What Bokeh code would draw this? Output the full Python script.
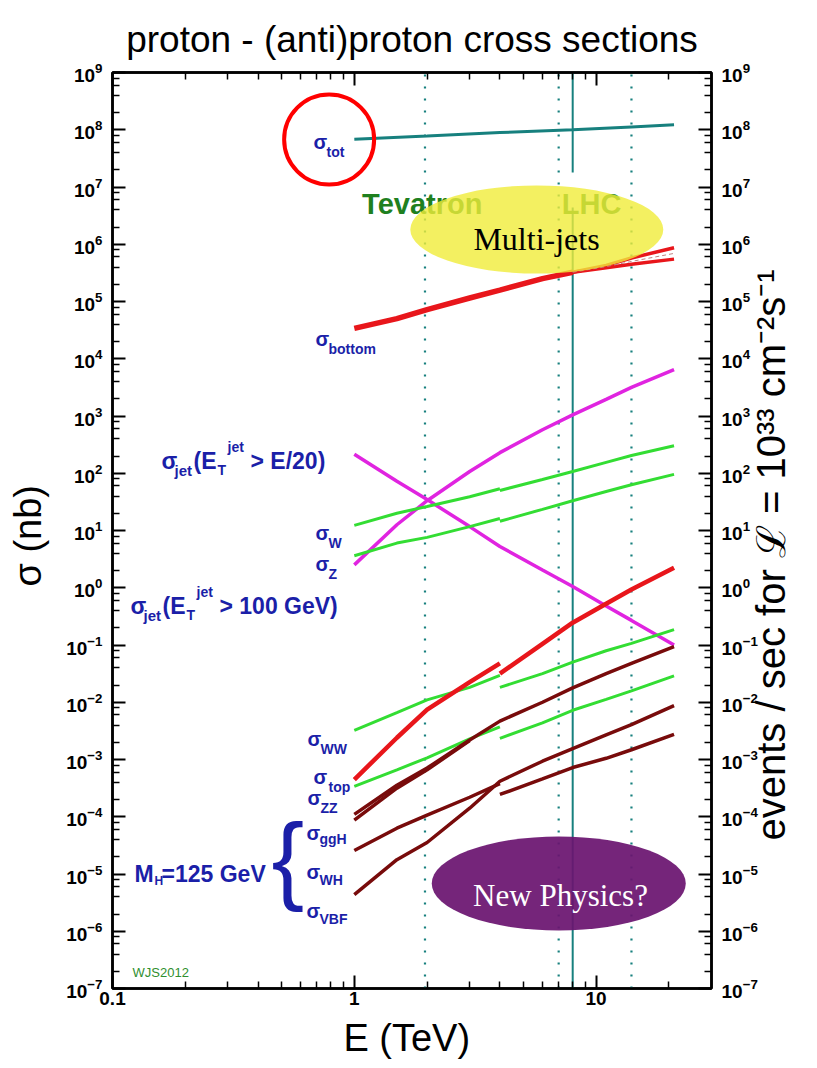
import math
from bokeh.plotting import figure
from bokeh.models import Range1d, LogAxis, FixedTicker, Label, LogTickFormatter
from bokeh.core.properties import value
from bokeh.embed import file_html
from bokeh.resources import INLINE

# ---------------- data (cross sections in nb, energies in TeV) ----------------
E_tot = [1, 2, 4, 8, 14, 21]
sig_tot = [6.84e7, 7.76e7, 8.91e7, 1.0e8, 1.12e8, 1.22e8]

E_all = [1, 1.5, 2, 3, 4, 6, 8, 11, 14, 21]
E_ppbar = [1, 1.5, 2, 3, 4]
E_pp = [4, 6, 8, 11, 14, 21]
E_trunk = [1, 1.5, 2, 3, 4, 6, 8]
E_split = [8, 11, 14, 21]

sig_bottom_trunk = [3.39e4, 5.01e4, 7.24e4, 1.15e5, 1.58e5, 2.51e5, 3.24e5]
sig_bottom_hi = [3.24e5, 4.27e5, 5.75e5, 8.71e5]
sig_bottom_lo = [3.24e5, 3.89e5, 4.47e5, 5.50e5]
sig_bottom_mid = [3.24e5, 4.07e5, 5.01e5, 6.92e5]

sig_jet_E20 = [214, 72.4, 34.7, 11.7, 5.25, 2.04, 1.05, 0.479, 0.269, 0.100]
sig_jet_100 = [2.51, 12.6, 33.1, 107, 229, 575, 1047, 1950, 3162, 6457]

sig_W_ppbar = [12.3, 20.0, 26.3, 38.9, 53.7]
sig_W_pp = [50.1, 77.6, 107, 155, 204, 302]
sig_Z_ppbar = [3.63, 6.03, 7.59, 11.7, 16.2]
sig_Z_pp = [14.5, 23.4, 33.1, 47.9, 63.1, 95.5]

sig_WW_ppbar = [3.24e-3, 6.61e-3, 1.10e-2, 1.82e-2, 2.95e-2]
sig_WW_pp = [1.82e-2, 3.16e-2, 5.01e-2, 7.94e-2, 0.107, 0.186]
sig_top_ppbar = [4.47e-4, 2.40e-3, 7.41e-3, 2.24e-2, 4.79e-2]
sig_top_pp = [3.16e-2, 0.105, 0.245, 0.525, 0.933, 2.24]
sig_ZZ_ppbar = [3.39e-4, 6.61e-4, 1.07e-3, 2.29e-3, 3.72e-3]
sig_ZZ_pp = [2.34e-3, 4.37e-3, 7.24e-3, 1.12e-2, 1.58e-2, 2.88e-2]

sig_ggH = [1.10e-4, 3.55e-4, 7.08e-4, 2.19e-3, 4.68e-3, 1.0e-2, 1.78e-2, 3.16e-2, 4.79e-2, 9.33e-2]
E_ggH_b = [1, 1.5, 2, 3]
sig_ggH_b = [8.7e-5, 3.16e-4, 6.61e-4, 2.14e-3]
sig_WH_ppbar = [2.57e-5, 6.31e-5, 1.07e-4, 2.19e-4, 3.80e-4]
sig_WH_pp = [2.45e-4, 4.57e-4, 7.24e-4, 1.05e-3, 1.48e-3, 2.75e-3]
sig_VBF = [4.37e-6, 1.78e-5, 3.55e-5, 1.41e-4, 4.17e-4, 9.33e-4, 1.55e-3, 2.69e-3, 4.07e-3, 8.71e-3]

E_dotted = [1.96, 7, 14]      # Tevatron, LHC 7 and 14 TeV
E_solid = [8]                 # LHC 8 TeV

x_tick_vals = [0.1, 1, 10]
x_tick_labels = ["0.1", "1", "10"]
x_minor = [0.2, 0.3, 0.4, 0.5, 0.6, 0.7, 0.8, 0.9, 2, 3, 4, 5, 6, 7, 8, 9, 20]
y_exponents = list(range(-7, 10))

# ---------------- layout constants ----------------
W, H = 817, 1068
FL, FR, FT, FB = 112, 712, 72, 988
X0, X1, Y0, Y1 = 0.1, 30.0, 1e-7, 1e9
LX0, LX1, LY0, LY1 = math.log10(X0), math.log10(X1), math.log10(Y0), math.log10(Y1)


def px2x(px):
    return 10 ** (LX0 + (px - FL) / (FR - FL) * (LX1 - LX0))


def py2y(py):
    return 10 ** (LY1 - (py - FT) / (FB - FT) * (LY1 - LY0))


SANS = "Liberation Sans"
SERIF = "Liberation Serif"
TEAL = "#17807e"
GREEN_TXT = "#1f801f"
BLUE = "#1b1fa8"
RED = "#e8161b"
MAG = "#e024e0"
GRN = "#33dd33"
DRED = "#780b0b"

p = figure(width=W, height=H, x_axis_type="log", y_axis_type="log",
           x_range=Range1d(X0, X1), y_range=Range1d(Y0, Y1),
           output_backend="svg", toolbar_location=None,
           min_border_left=FL, min_border_right=W - FR,
           min_border_top=FT, min_border_bottom=H - FB)
p.grid.visible = False
p.outline_line_color = "black"
p.outline_line_width = 2.5
p.background_fill_color = "white"
p.border_fill_color = "white"

p.title.text = "proton - (anti)proton cross sections"
p.title.align = "center"
p.title.text_font = SANS
p.title.text_font_style = "normal"
p.title.text_font_size = "37px"
p.title.text_color = "black"
p.title.standoff = 26

p.add_layout(LogAxis(), "right")
p.add_layout(LogAxis(), "above")

for ax in p.xaxis:
    ax.ticker = FixedTicker(ticks=x_tick_vals, minor_ticks=x_minor)
for ax in p.yaxis:
    ax.ticker = FixedTicker(ticks=[10.0 ** k for k in y_exponents],
                            minor_ticks=[m * 10.0 ** k for k in y_exponents[:-1] for m in (2, 4, 6, 8)])
    ax.formatter = LogTickFormatter()
for ax in p.xaxis + p.yaxis:
    ax.axis_line_width = 2.5
    ax.axis_line_color = "black"
    ax.major_tick_in = 13
    ax.major_tick_out = 0
    ax.minor_tick_in = 7
    ax.minor_tick_out = 0
    ax.major_tick_line_width = 2
    ax.minor_tick_line_width = 1.5
    ax.major_tick_line_color = "black"
    ax.minor_tick_line_color = "black"
    ax.major_label_text_font = SANS
    ax.major_label_text_font_style = "bold"
    ax.major_label_text_font_size = "19px"
    ax.major_label_text_color = "black"
    ax.axis_label_text_font = SANS
    ax.axis_label_text_font_style = "normal"
    ax.axis_label_text_color = "black"

bottom, top = p.below[0], p.above[0]
left, right = p.left[0], p.right[0]

overrides = {}
for v, t in zip(x_tick_vals, x_tick_labels):
    overrides[float(v)] = t
    overrides[str(v)] = t
bottom.major_label_overrides = overrides
bottom.major_label_standoff = 3
bottom.axis_label = "E  (TeV)"
bottom.axis_label_text_font_size = "38px"
bottom.axis_label_standoff = 9

top.major_label_text_font_size = "1px"
top.major_label_text_color = None
top.major_label_standoff = 0

left.major_label_standoff = 10
left.axis_label = "σ  (nb)"
left.axis_label_text_font_size = "38px"
left.axis_label_standoff = 14

right.major_label_standoff = 10

# second right axis only carries the rotated title (reads bottom to top)
title_axis = LogAxis(ticker=FixedTicker(ticks=[]),
                     axis_line_color=None, major_tick_in=0, major_tick_out=0,
                     minor_tick_in=0, minor_tick_out=0, major_label_text_color=None,
                     major_label_text_font_size="1px", major_label_standoff=0)
title_axis.axis_label = "\u2003\u2003\u2003\u2002\u2009events / sec for ℒ = 10³³ cm⁻²s⁻¹"
title_axis.axis_label_text_font = SANS
title_axis.axis_label_text_font_style = "normal"
title_axis.axis_label_text_font_size = "40px"
title_axis.axis_label_text_color = "black"
title_axis.axis_label_standoff = 10
props = title_axis.properties()
if "axis_label_orientation" in props:
    title_axis.axis_label_orientation = math.pi / 2
if "axis_label_align" in props:
    title_axis.axis_label_align = "start"
p.add_layout(title_axis, "right")

# ---------------- reference energy lines ----------------
for e in E_dotted:
    p.segment(x0=[e], y0=[Y0], x1=[e], y1=[Y1], line_color=TEAL, line_width=2.2, line_dash="2 10")
gap_top, gap_bot = py2y(172), py2y(207)
for e in E_solid:
    p.segment(x0=[e, e], y0=[Y1, gap_bot], x1=[e, e], y1=[gap_top, Y0], line_color=TEAL, line_width=2)

# ---------------- curves ----------------
p.line(E_tot, sig_tot, line_color=TEAL, line_width=3)

p.line(E_trunk, sig_bottom_trunk, line_color=RED, line_width=5.5)
p.line(E_split, sig_bottom_hi, line_color=RED, line_width=3.5)
p.line(E_split, sig_bottom_lo, line_color=RED, line_width=3.5)
p.line(E_split, sig_bottom_mid, line_color="#c08080", line_width=1, line_dash="4 3")

p.line(E_all, sig_jet_E20, line_color=MAG, line_width=3.5)
p.line(E_all, sig_jet_100, line_color=MAG, line_width=3.5)

p.line(E_ppbar, sig_W_ppbar, line_color=GRN, line_width=3)
p.line(E_pp, sig_W_pp, line_color=GRN, line_width=3)
p.line(E_ppbar, sig_Z_ppbar, line_color=GRN, line_width=3)
p.line(E_pp, sig_Z_pp, line_color=GRN, line_width=3)

p.line(E_ppbar, sig_WW_ppbar, line_color=GRN, line_width=3)
p.line(E_pp, sig_WW_pp, line_color=GRN, line_width=3)
p.line(E_ppbar, sig_ZZ_ppbar, line_color=GRN, line_width=3)
p.line(E_pp, sig_ZZ_pp, line_color=GRN, line_width=3)

p.line(E_ppbar, sig_top_ppbar, line_color=RED, line_width=4.5)
p.line(E_pp, sig_top_pp, line_color=RED, line_width=4.5)

p.line(E_ggH_b, sig_ggH_b, line_color=DRED, line_width=3.5)
p.line(E_all, sig_ggH, line_color=DRED, line_width=3.5)
p.line(E_ppbar, sig_WH_ppbar, line_color=DRED, line_width=3.5)
p.line(E_pp, sig_WH_pp, line_color=DRED, line_width=3.5)
p.line(E_all, sig_VBF, line_color=DRED, line_width=3.5)

# ---------------- in-frame annotations ----------------
p.text(x=[px2x(362)], y=[py2y(203)], text=["Tevatron"], text_font=value(SANS), text_font_style="bold",
       text_font_size="29px", text_color=GREEN_TXT, text_baseline="alphabetic", text_align="left")
p.text(x=[px2x(562)], y=[py2y(203)], text=["LHC"], text_font=value(SANS), text_font_style="bold",
       text_font_size="29px", text_color=GREEN_TXT, text_baseline="alphabetic", text_align="left")

p.ellipse(x=[px2x(537)], y=[py2y(229)], width=253, height=88, width_units="screen", height_units="screen",
          fill_color="#f0ec3a", fill_alpha=0.8, line_color=None)
p.ellipse(x=[px2x(559)], y=[py2y(883)], width=254, height=94, width_units="screen", height_units="screen",
          fill_color="#6b1470", fill_alpha=0.93, line_color=None)
p.ellipse(x=[px2x(329)], y=[py2y(139)], width=90, height=90, width_units="screen", height_units="screen",
          fill_color=None, line_color="#ff0000", line_width=4)


def lab(txt, px, py, size, color=BLUE, bold=True, font=SANS, align="left", baseline="alphabetic", angle=0.0):
    p.add_layout(Label(x=px - FL, y=FB - py, x_units="screen", y_units="screen", text=txt,
                       text_font_size=f"{size}px", text_font=font,
                       text_font_style="bold" if bold else "normal", text_color=color,
                       text_align=align, text_baseline=baseline, angle=angle))


lab("Multi-jets", 536, 238, 32, color="black", bold=False, font=SERIF, align="center")
lab("New Physics?", 560, 895, 31, color="white", bold=False, font=SERIF, align="center")


def sig(sub, px, py, size=20, subsize=14, dx=13, dy=10):
    lab("σ", px, py, size)
    lab(sub, px + dx, py + dy, subsize)


sig("tot", 313, 141)
sig("bottom", 315, 338)
sig("W", 315, 532)
sig("Z", 315, 563)
sig("WW", 307, 738)
sig("top", 313, 776, dx=15)
sig("ZZ", 307, 797)
sig("ggH", 306, 832, dy=6)
sig("WH", 306, 871, dy=8)
sig("VBF", 306, 910, dy=8)

lab("σ", 161, 460, 23)
lab("jet", 174, 470, 15)
lab("(E", 193, 460, 23)
lab("T", 217, 469, 14)
lab("jet", 227, 446, 14)
lab("> E/20)", 250, 460, 23)

lab("σ", 130, 605, 23)
lab("jet", 143, 615, 15)
lab("(E", 162, 605, 23)
lab("T", 186, 614, 14)
lab("jet", 196, 591, 14)
lab("> 100 GeV)", 219, 605, 23)

lab("M", 134, 873, 23)
lab("H", 154, 880, 12)
lab("=125 GeV", 161, 873, 23)
lab("{", 271, 857, 98, bold=False, font=SANS)

lab("WJS2012", 132, 972, 13, color="#2f8f2f", bold=False)

open("out.html", "w").write(file_html(p, INLINE))
